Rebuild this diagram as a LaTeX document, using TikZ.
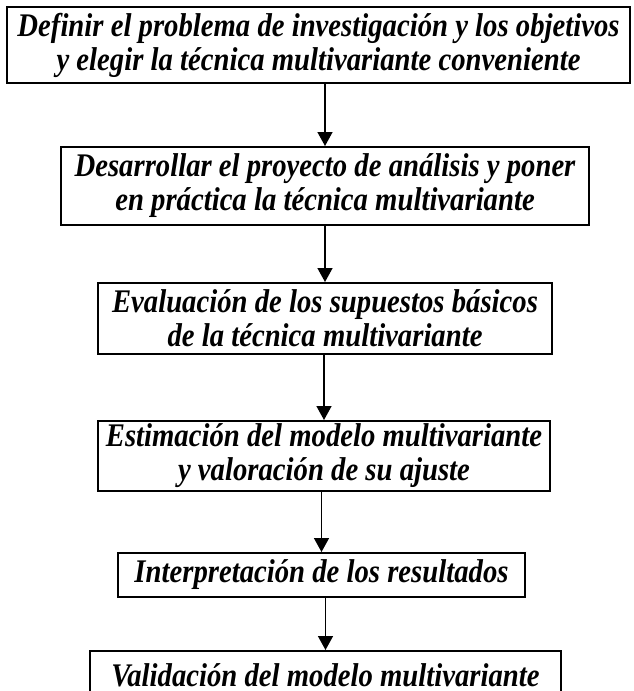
\documentclass[tikz,border=0pt]{standalone}
\usepackage{fontspec}
\setmainfont{Liberation Serif}[FakeStretch=0.87]
\usetikzlibrary{arrows.meta}
\definecolor{ink}{HTML}{000000}
\tikzset{
  stage/.style={draw=ink, line width=2pt, inner sep=0pt, align=center,
    font=\fontsize{33}{34}\selectfont\bfseries\itshape},
  flow/.style={draw=ink, line width=1.5pt, -{Triangle[length=14pt,width=15pt]}},
}
\begin{document}
\begin{tikzpicture}[x=1pt,y=-1pt]
  \useasboundingbox (0,0) rectangle (633,691);
  \clip (0,0) rectangle (633,691);
  \node[stage, minimum width=623pt, minimum height=76pt] (define) at (318.5,45)
    {Definir el problema de investigación y los objetivos\\y elegir la técnica multivariante conveniente};
  \node[stage, minimum width=528pt, minimum height=78pt] (design) at (325,186)
    {Desarrollar el proyecto de análisis y poner\\en práctica la técnica multivariante};
  \node[stage, minimum width=454pt, minimum height=71pt] (assume) at (325,318.5)
    {Evaluación de los supuestos básicos\\de la técnica multivariante};
  \node[stage, minimum width=452pt, minimum height=70pt] (estimate) at (324,456)
    {Estimación del modelo multivariante\\y valoración de su ajuste};
  \node[stage, minimum width=407pt, minimum height=44pt] (interpret) at (321.5,575)
    {Interpretación de los resultados};
  \node[stage, minimum width=471pt, minimum height=48pt] (validate) at (325.5,675)
    {Validación del modelo multivariante};
  % arrows between stages
  \draw[flow] (design.north |- define.south) -- (design.north);
  \draw[flow] (assume.north |- design.south) -- (assume.north);
  \draw[flow] (estimate.north |- assume.south) -- (estimate.north);
  \draw[flow] (interpret.north |- estimate.south) -- (interpret.north);
  \draw[flow] (validate.north |- interpret.south) -- (validate.north);
\end{tikzpicture}
\end{document}
